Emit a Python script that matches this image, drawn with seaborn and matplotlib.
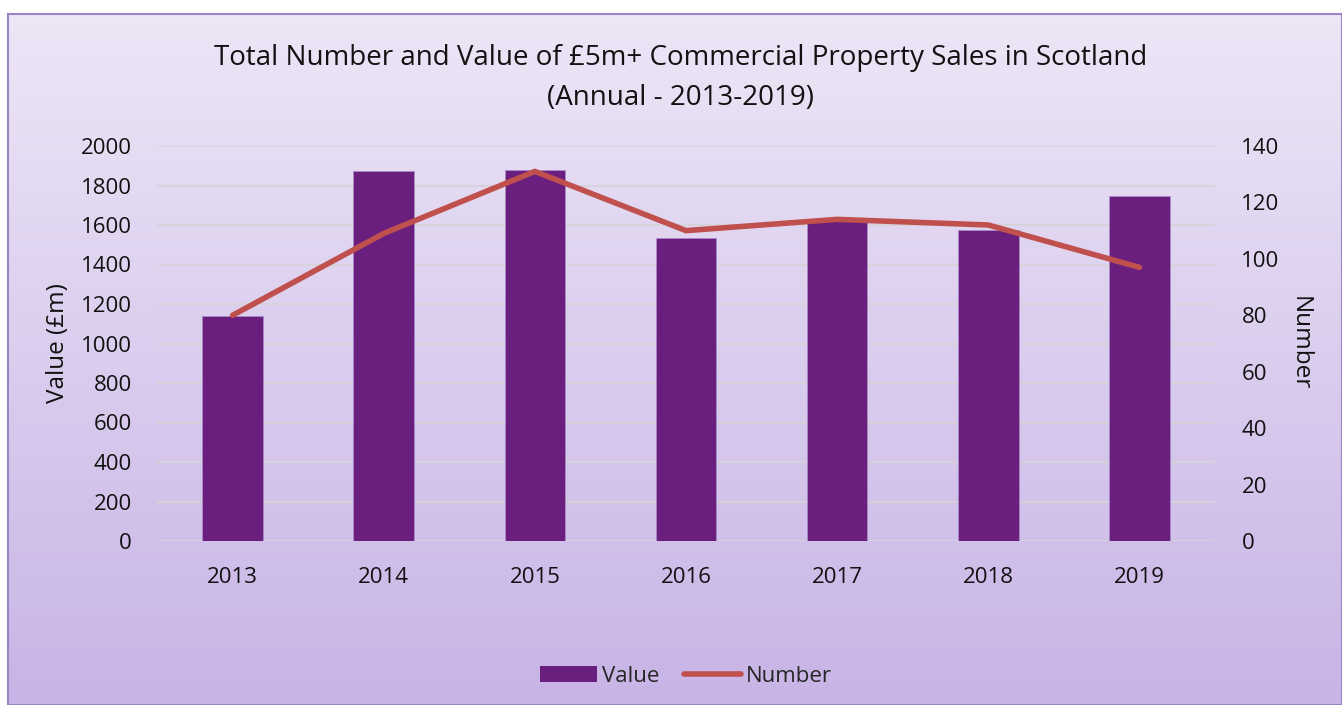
import numpy as np
import pandas as pd
import matplotlib.pyplot as plt
import seaborn as sns
from matplotlib.colors import LinearSegmentedColormap
from matplotlib.patches import Patch
from matplotlib.lines import Line2D

sns.set_style("white")
plt.rcParams['font.family'] = ['Open Sans', 'DejaVu Sans']

years = ["2013", "2014", "2015", "2016", "2017", "2018", "2019"]
value_m = [1139, 1873, 1878, 1534, 1625, 1575, 1747]
number = [80, 109, 131, 110, 114, 112, 97]

df = pd.DataFrame({"Year": years, "Value": value_m, "Number": number})

bar_col = "#6A1F7F"
line_col = "#C0504D"

fig = plt.figure(figsize=(13.42, 7.05), dpi=100)

# gradient background with border (chart area starts a bit in from top/left)
bg = fig.add_axes([8 / 1342, 0, 1 - 8 / 1342, (705 - 14) / 705])
cmap = LinearSegmentedColormap.from_list("bg", ["#EDE6F6", "#C8B4E6"])
bg.imshow(np.linspace(0, 1, 256).reshape(-1, 1), aspect="auto", cmap=cmap,
          extent=[0, 1, 0, 1], origin="upper")
bg.set_xticks([])
bg.set_yticks([])
for s in bg.spines.values():
    s.set_color("#9A85C2")
    s.set_linewidth(1.5)

ax = fig.add_axes([157 / 1342, (705 - 541) / 705, (1215 - 157) / 1342, 395 / 705])
ax.patch.set_alpha(0)
sns.barplot(data=df, x="Year", y="Value", color=bar_col, width=0.4,
            saturation=1, ax=ax, zorder=3, edgecolor="#A98BC8", linewidth=0.6)
ax.set_ylim(0, 2000)
ax.set_yticks(np.arange(0, 2001, 200))
ax.set_xlim(-0.5, 6.5)
ax.grid(axis="y", color="#D6D3D8", linewidth=1.3, zorder=0)
ax.set_axisbelow(True)
for s in ax.spines.values():
    s.set_visible(False)
ax.tick_params(axis="both", length=0, labelsize=16, colors="#111111")
ax.tick_params(axis="y", pad=18)
ax.tick_params(axis="x", pad=19)
ax.set_xlabel("")
ax.set_ylabel("")

ax2 = ax.twinx()
sns.lineplot(data=df, x="Year", y="Number", color=line_col, linewidth=4,
             sort=False, ax=ax2, solid_capstyle="round")
ax2.set_ylim(0, 140)
ax2.set_yticks(np.arange(0, 141, 20))
ax2.set_xlim(-0.5, 6.5)
for s in ax2.spines.values():
    s.set_visible(False)
ax2.tick_params(axis="y", length=0, labelsize=16, pad=19, colors="#111111")
ax2.set_ylabel("")
ax2.set_xlabel("")

fig.text(0.507, (705 - 58) / 705, "Total Number and Value of £5m+ Commercial Property Sales in Scotland",
         ha="center", va="center", fontsize=20, color="#111111")
fig.text(0.507, (705 - 98) / 705, "(Annual - 2013-2019)",
         ha="center", va="center", fontsize=20, color="#111111")
fig.text(58 / 1342, (705 - 343) / 705, "Value (£m)", rotation=90,
         ha="center", va="center", fontsize=17.5, color="#111111")
fig.text(1300 / 1342, (705 - 343) / 705, "Number", rotation=270,
         ha="center", va="center", fontsize=17.5, color="#111111")

handles = [Patch(facecolor=bar_col, edgecolor="none", label="Value"),
           Line2D([0], [0], color=line_col, linewidth=4, label="Number",
                  solid_capstyle="round")]
fig.legend(handles=handles, loc="center", bbox_to_anchor=(0.511, (705 - 676) / 705),
           ncol=2, frameon=False, fontsize=16, handlelength=2.6,
           handletextpad=0.2, columnspacing=1.1)

fig.savefig("out.png", dpi=100)
